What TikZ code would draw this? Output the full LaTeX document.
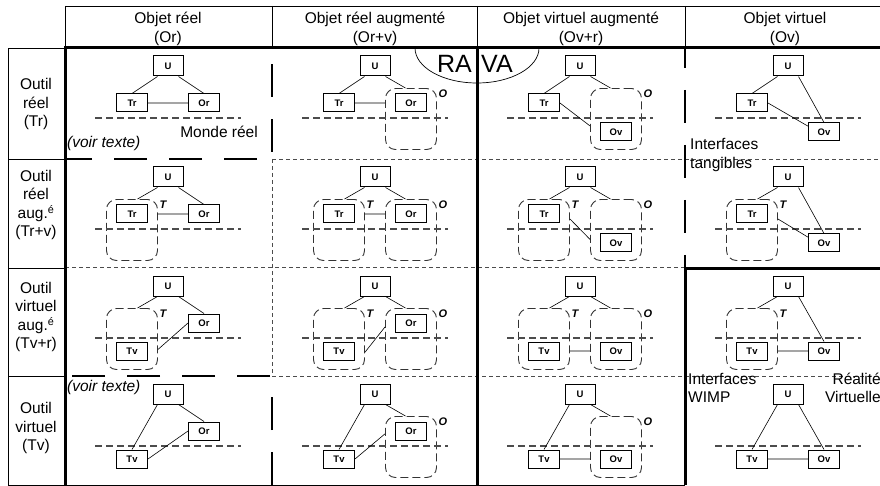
\documentclass[tikz,border=0pt]{standalone}
\usepackage{fontspec}
\setmainfont{Liberation Sans}
\newcommand{\policetexte}{\fontsize{15.5}{18.5}\selectfont}
\begin{document}
\begin{tikzpicture}[x=1pt,y=-1pt,
    boite/.style={draw,line width=1pt,minimum width=31pt,minimum height=18pt,inner sep=0pt,font=\fontsize{9.5}{10}\selectfont\bfseries},
    ubox/.style={boite,minimum width=30pt,minimum height=20pt},
    zone/.style={draw=black!80,line width=0.9pt,dash pattern=on 8pt off 4pt,rounded corners=10pt,minimum width=51pt,minimum height=61pt,inner sep=0pt},
    etiq/.style={anchor=north west,inner sep=1.5pt,font=\fontsize{11}{12}\selectfont\bfseries\itshape},
    monde/.style={black!70,line width=1.1pt,dash pattern=on 7pt off 4pt},
    lien/.style={line width=0.6pt},
    cadre/.style={line width=0.9pt},
    epais/.style={line width=3pt},
    grandtiret/.style={line width=2pt,dash pattern=on 33pt off 22pt},
    petittiret/.style={black!70,line width=0.8pt,dash pattern=on 4pt off 3pt},
    texte/.style={inner sep=0pt,font=\policetexte,align=center}]
  \fill[white] (0,0) rectangle (880,486);
  \useasboundingbox (0,0) rectangle (880,486);

  % tableau
  \draw[cadre] (65,6) -- (880,6);
  \foreach \x in {65,272,477,685} \draw[cadre] (\x,6) -- (\x,48);
  \draw[cadre] (65,48) -- (8,48) -- (8,485) -- (685,485);
  \foreach \y in {159,268,376} \draw[cadre] (8,\y) -- (65,\y);
  \draw[petittiret] (272,159) -- (880,159);
  \draw[petittiret] (65,267) -- (685,267);
  \draw[petittiret] (272,376) -- (880,376);
  \draw[petittiret] (272,159) -- (272,376);
  \draw[grandtiret] (257,159) -- (65,159);
  \draw[grandtiret] (270,376) -- (65,376);
  \draw[grandtiret] (272,152) -- (272,48);
  \draw[grandtiret] (272,485) -- (272,376);
  \draw[grandtiret,dash phase=13pt] (685,48) -- (685,268);
  \draw[cadre,line width=0.7pt] (415,48) arc[start angle=180,end angle=360,x radius=62pt,y radius=35pt];
  \draw[epais] (65,485) -- (65,48) -- (880,48);
  \draw[epais] (477,48) -- (477,485);
  \draw[epais] (685,485) -- (685,268) -- (880,268);

  % en-tetes
  \node[texte] (h1) at (168,29) {Objet réel\\(Or)};
  \node[texte] (h2) at (375,29) {Objet réel augmenté\\(Or+v)};
  \node[texte] (h3) at (581,29) {Objet virtuel augmenté\\(Ov+r)};
  \node[texte] (h4) at (785,29) {Objet virtuel\\(Ov)};
  \node[texte] (l1) at (36,104) {Outil\\réel\\(Tr)};
  \node[texte] (l2) at (36,205) {Outil\\réel\\aug.\textsuperscript{é}\\(Tr+v)};
  \node[texte] (l3) at (36,317) {Outil\\virtuel\\aug.\textsuperscript{é}\\(Tv+r)};
  \node[texte] (l4) at (36,428) {Outil\\virtuel\\(Tv)};
  \node[texte,anchor=east,font=\fontsize{25}{28}\selectfont] (ra) at (472,64) {RA};
  \node[texte,anchor=west,font=\fontsize{25}{28}\selectfont] (va) at (481,64) {VA};

  % ligne 1 : outil reel
  \begin{scope}[shift={(168,48)}]
    \node[ubox] (u11) at (0,18) {U};
    \node[boite] (t11) at (-36,55) {Tr};
    \node[boite] (o11) at (36,55) {Or};
    \draw[monde] (-73,70) -- (73,70);
    \draw[lien] (u11.-135) -- (t11.north) (u11.-45) -- (o11.north) (t11) -- (o11);
  \end{scope}
  \begin{scope}[shift={(375,48)}]
    \node[ubox] (u12) at (0,18) {U};
    \node[boite] (t12) at (-36,55) {Tr};
    \node[boite] (o12) at (36,55) {Or};
    \node[zone] (O12) at (36,71) {};
    \node[etiq] (lo12) at (O12.north east) {O};
    \draw[monde] (-73,70) -- (73,70);
    \draw[lien] (u12.-135) -- (t12.north) (u12.-45) -- (O12.100) (t12) -- (t12 -| O12.west);
  \end{scope}
  \begin{scope}[shift={(580,48)}]
    \node[ubox] (u13) at (0,18) {U};
    \node[boite] (t13) at (-36,55) {Tr};
    \node[boite] (o13) at (36,84) {Ov};
    \node[zone] (O13) at (36,71) {};
    \node[etiq] (lo13) at (O13.north east) {O};
    \draw[monde] (-73,70) -- (73,70);
    \draw[lien] (u13.-135) -- (t13.north) (u13.-45) -- (O13.100) (t13.east) -- (O13.195);
  \end{scope}
  \begin{scope}[shift={(788,48)}]
    \node[ubox] (u14) at (0,18) {U};
    \node[boite] (t14) at (-36,55) {Tr};
    \node[boite] (o14) at (36,84) {Ov};
    \draw[monde] (-73,70) -- (73,70);
    \draw[lien] (u14.-135) -- (t14.north) (u14.-45) -- (o14.north) (t14.east) -- (o14.160);
  \end{scope}

  % ligne 2 : outil reel augmente
  \begin{scope}[shift={(168,159)}]
    \node[ubox] (u21) at (0,18) {U};
    \node[boite] (t21) at (-36,55) {Tr};
    \node[boite] (o21) at (36,55) {Or};
    \node[zone] (T21) at (-36,71) {};
    \node[etiq] (lt21) at (T21.north east) {T};
    \draw[monde] (-73,70) -- (73,70);
    \draw[lien] (u21.-135) -- (T21.80) (u21.-45) -- (o21.north) (t21 -| T21.east) -- (o21);
  \end{scope}
  \begin{scope}[shift={(375,159)}]
    \node[ubox] (u22) at (0,18) {U};
    \node[boite] (t22) at (-36,55) {Tr};
    \node[boite] (o22) at (36,55) {Or};
    \node[zone] (T22) at (-36,71) {};
    \node[zone] (O22) at (36,71) {};
    \node[etiq] (lt22) at (T22.north east) {T};
    \node[etiq] (lo22) at (O22.north east) {O};
    \draw[monde] (-73,70) -- (73,70);
    \draw[lien] (u22.-135) -- (T22.80) (u22.-45) -- (O22.100) (t22 -| T22.east) -- (t22 -| O22.west);
  \end{scope}
  \begin{scope}[shift={(580,159)}]
    \node[ubox] (u23) at (0,18) {U};
    \node[boite] (t23) at (-36,55) {Tr};
    \node[boite] (o23) at (36,84) {Ov};
    \node[zone] (T23) at (-36,71) {};
    \node[zone] (O23) at (36,71) {};
    \node[etiq] (lt23) at (T23.north east) {T};
    \node[etiq] (lo23) at (O23.north east) {O};
    \draw[monde] (-73,70) -- (73,70);
    \draw[lien] (u23.-135) -- (T23.80) (u23.-45) -- (O23.100) (T23.23) -- (O23.200);
  \end{scope}
  \begin{scope}[shift={(788,159)}]
    \node[ubox] (u24) at (0,18) {U};
    \node[boite] (t24) at (-36,55) {Tr};
    \node[boite] (o24) at (36,84) {Ov};
    \node[zone] (T24) at (-36,71) {};
    \node[etiq] (lt24) at (T24.north east) {T};
    \draw[monde] (-73,70) -- (73,70);
    \draw[lien] (u24.-135) -- (T24.80) (u24.-45) -- (o24.north) (T24.23) -- (o24.160);
  \end{scope}

  % ligne 3 : outil virtuel augmente
  \begin{scope}[shift={(168,268)}]
    \node[ubox] (u31) at (0,18) {U};
    \node[boite] (t31) at (-36,83) {Tv};
    \node[boite] (o31) at (36,55) {Or};
    \node[zone] (T31) at (-36,71) {};
    \node[etiq] (lt31) at (T31.north east) {T};
    \draw[monde] (-73,70) -- (73,70);
    \draw[lien] (u31.-135) -- (T31.80) (u31.-45) -- (o31.north) (o31.west) -- (T31.-22);
  \end{scope}
  \begin{scope}[shift={(375,268)}]
    \node[ubox] (u32) at (0,18) {U};
    \node[boite] (t32) at (-36,83) {Tv};
    \node[boite] (o32) at (36,55) {Or};
    \node[zone] (T32) at (-36,71) {};
    \node[zone] (O32) at (36,71) {};
    \node[etiq] (lt32) at (T32.north east) {T};
    \node[etiq] (lo32) at (O32.north east) {O};
    \draw[monde] (-73,70) -- (73,70);
    \draw[lien] (u32.-135) -- (T32.80) (u32.-45) -- (O32.100) (O32.155) -- (T32.-27);
  \end{scope}
  \begin{scope}[shift={(580,268)}]
    \node[ubox] (u33) at (0,18) {U};
    \node[boite] (t33) at (-36,83) {Tv};
    \node[boite] (o33) at (36,83) {Ov};
    \node[zone] (T33) at (-36,71) {};
    \node[zone] (O33) at (36,71) {};
    \node[etiq] (lt33) at (T33.north east) {T};
    \node[etiq] (lo33) at (O33.north east) {O};
    \draw[monde] (-73,70) -- (73,70);
    \draw[lien] (u33.-135) -- (T33.80) (u33.-45) -- (O33.100) (t33 -| T33.east) -- (t33 -| O33.west);
  \end{scope}
  \begin{scope}[shift={(788,268)}]
    \node[ubox] (u34) at (0,18) {U};
    \node[boite] (t34) at (-36,83) {Tv};
    \node[boite] (o34) at (36,83) {Ov};
    \node[zone] (T34) at (-36,71) {};
    \node[etiq] (lt34) at (T34.north east) {T};
    \draw[monde] (-73,70) -- (73,70);
    \draw[lien] (u34.-135) -- (T34.80) (u34.-45) -- (o34.north) (t34 -| T34.east) -- (o34);
  \end{scope}

  % ligne 4 : outil virtuel
  \begin{scope}[shift={(168,376)}]
    \node[ubox] (u41) at (0,18) {U};
    \node[boite] (t41) at (-36,83) {Tv};
    \node[boite] (o41) at (36,55) {Or};
    \draw[monde] (-73,70) -- (73,70);
    \draw[lien] (u41.-135) -- (t41.north) (u41.-45) -- (o41.north) (t41.east) -- (o41.west);
  \end{scope}
  \begin{scope}[shift={(375,376)}]
    \node[ubox] (u42) at (0,18) {U};
    \node[boite] (t42) at (-36,83) {Tv};
    \node[boite] (o42) at (36,55) {Or};
    \node[zone] (O42) at (36,71) {};
    \node[etiq] (lo42) at (O42.north east) {O};
    \draw[monde] (-73,70) -- (73,70);
    \draw[lien] (u42.-135) -- (t42.north) (u42.-45) -- (O42.100) (t42.east) -- (O42.153);
  \end{scope}
  \begin{scope}[shift={(580,376)}]
    \node[ubox] (u43) at (0,18) {U};
    \node[boite] (t43) at (-36,83) {Tv};
    \node[boite] (o43) at (36,83) {Ov};
    \node[zone] (O43) at (36,71) {};
    \node[etiq] (lo43) at (O43.north east) {O};
    \draw[monde] (-73,70) -- (73,70);
    \draw[lien] (u43.-135) -- (t43.north) (u43.-45) -- (O43.100) (t43) -- (t43 -| O43.west);
  \end{scope}
  \begin{scope}[shift={(788,376)}]
    \node[ubox] (u44) at (0,18) {U};
    \node[boite] (t44) at (-36,83) {Tv};
    \node[boite] (o44) at (36,83) {Ov};
    \draw[monde] (-73,70) -- (73,70);
    \draw[lien] (u44.-135) -- (t44.north) (u44.-45) -- (o44.north) (t44) -- (o44);
  \end{scope}

  % textes
  \node[texte,anchor=east] (monde) at (258,132) {Monde réel};
  \node[texte,anchor=west,font=\policetexte\itshape] (voir1) at (67,143) {(voir texte)};
  \node[texte,anchor=west,font=\policetexte\itshape] (voir2) at (67,387) {(voir texte)};
  \node[texte,anchor=west,align=left] (tang) at (690,155) {Interfaces\\tangibles};
  \node[texte,anchor=west,align=left] (wimp) at (688,388) {Interfaces\\WIMP};
  \node[texte,anchor=east,align=right] (rv) at (881,388) {Réalité\\Virtuelle};
\end{tikzpicture}
\end{document}
